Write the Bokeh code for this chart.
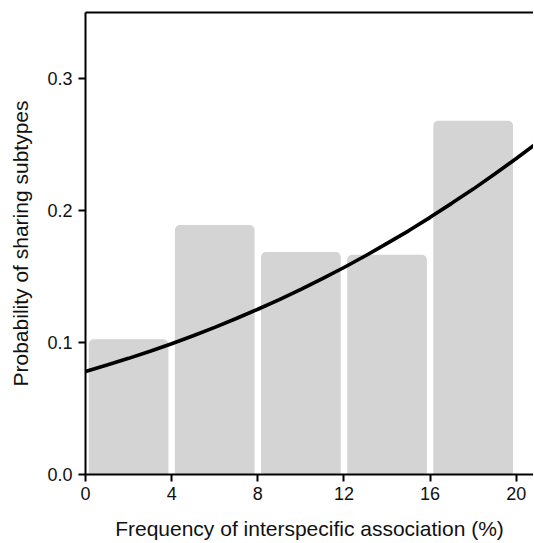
from bokeh.plotting import figure
from bokeh.models import LinearAxis, FixedTicker, NumeralTickFormatter, Range1d
from bokeh.embed import file_html
from bokeh.resources import INLINE

# Bars: frequency bins (%) and probability of sharing subtypes
bin_centers = [2, 6, 10, 14, 18]
bar_heights = [0.1025, 0.189, 0.1685, 0.1665, 0.268]

# Fitted curve
curve_x = [0, 1, 2, 3, 4, 5, 6, 7, 8, 9, 10, 11, 12, 13, 14, 15, 16, 17, 18, 19, 20, 21]
curve_y = [0.0780, 0.0829, 0.0880, 0.0934, 0.0991, 0.1051, 0.1115, 0.1182, 0.1252,
           0.1325, 0.1403, 0.1484, 0.1568, 0.1657, 0.1751, 0.1846, 0.1948, 0.2054,
           0.2162, 0.2277, 0.2394, 0.2516]

x_ticks = [0, 4, 8, 12, 16, 20]
y_ticks = [0.0, 0.1, 0.2, 0.3]

FONT = "Liberation Sans"

p = figure(width=533, height=542, output_backend="svg", toolbar_location=None,
           x_range=Range1d(0, 20.8), y_range=Range1d(0, 0.35),
           min_border_left=85, min_border_right=0, min_border_top=12, min_border_bottom=66)
p.outline_line_color = None
p.xgrid.visible = False
p.ygrid.visible = False
p.background_fill_color = "white"
p.border_fill_color = "white"

p.vbar(x=bin_centers, top=bar_heights, width=3.7, bottom=0,
       fill_color="#d4d4d4", line_color=None, border_radius=(5, 5, 0, 0))
p.line(curve_x, curve_y, line_color="black", line_width=3.6)

for ax in (p.xaxis[0], p.yaxis[0]):
    ax.axis_line_color = "black"
    ax.axis_line_width = 2
    ax.major_tick_line_color = "black"
    ax.major_tick_line_width = 2
    ax.major_tick_out = 7
    ax.major_tick_in = 0
    ax.minor_tick_line_color = None
    ax.major_label_text_font = FONT
    ax.major_label_text_font_size = "18px"
    ax.major_label_text_color = "#111111"
    ax.axis_label_text_font = FONT
    ax.axis_label_text_font_size = "21px"
    ax.axis_label_text_font_style = "normal"
    ax.axis_label_text_color = "#111111"

p.xaxis[0].ticker = FixedTicker(ticks=x_ticks)
p.yaxis[0].ticker = FixedTicker(ticks=y_ticks)
p.yaxis[0].formatter = NumeralTickFormatter(format="0.0")
p.xaxis[0].axis_label = "Frequency of interspecific association (%)"
p.yaxis[0].axis_label = "Probability of sharing subtypes"
p.xaxis[0].major_label_standoff = 5
p.yaxis[0].major_label_standoff = 6
p.xaxis[0].axis_label_standoff = 14
p.yaxis[0].axis_label_standoff = 12

top = LinearAxis(ticker=FixedTicker(ticks=[]), axis_line_color="black", axis_line_width=2,
                 major_tick_line_color=None, minor_tick_line_color=None,
                 major_label_text_font_size="0px")
p.add_layout(top, "above")

open("out.html", "w").write(file_html(p, INLINE))
